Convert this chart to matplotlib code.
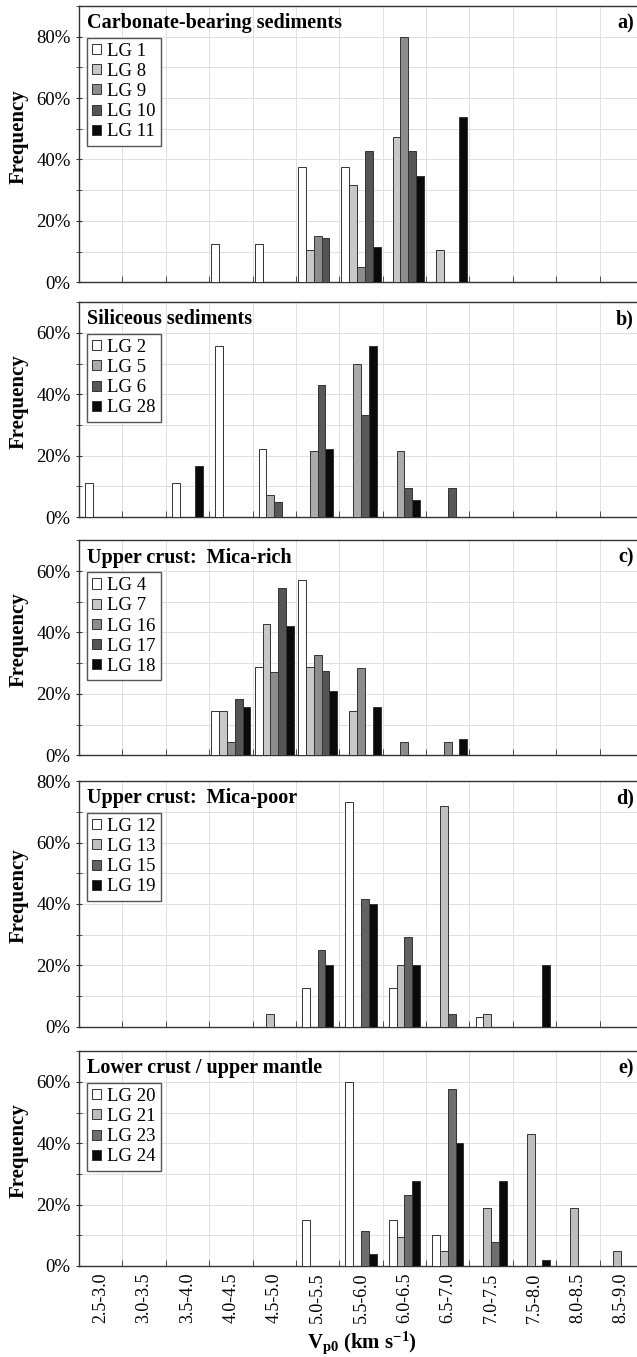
import matplotlib
matplotlib.use('Agg')
import matplotlib.pyplot as plt
import numpy as np
from matplotlib.ticker import PercentFormatter, MultipleLocator, FixedLocator

# === Fonts: Times-like serif everywhere ===
plt.rcParams['font.family'] = ['Liberation Serif', 'DejaVu Serif']
plt.rcParams['mathtext.fontset'] = 'custom'
plt.rcParams['mathtext.rm'] = 'Liberation Serif'
plt.rcParams['mathtext.bf'] = 'Liberation Serif:bold'
plt.rcParams['mathtext.it'] = 'Liberation Serif:italic'

# === Velocity classes (km/s) ===
categories = ['2.5-3.0', '3.0-3.5', '3.5-4.0', '4.0-4.5', '4.5-5.0', '5.0-5.5',
              '5.5-6.0', '6.0-6.5', '6.5-7.0', '7.0-7.5', '7.5-8.0', '8.0-8.5',
              '8.5-9.0']

# === a) Carbonate-bearing sediments (%) ===
a_labels = ['LG 1', 'LG 8', 'LG 9', 'LG 10', 'LG 11']
lg1 = [0, 0, 0, 12.5, 12.5, 37.5, 37.5, 0, 0, 0, 0, 0, 0]
lg8 = [0, 0, 0, 0, 0, 10.5, 31.6, 47.4, 10.5, 0, 0, 0, 0]
lg9 = [0, 0, 0, 0, 0, 15.0, 5.0, 80.0, 0, 0, 0, 0, 0]
lg10 = [0, 0, 0, 0, 0, 14.3, 42.9, 42.9, 0, 0, 0, 0, 0]
lg11 = [0, 0, 0, 0, 0, 0, 11.5, 34.6, 53.8, 0, 0, 0, 0]

# === b) Siliceous sediments ===
b_labels = ['LG 2', 'LG 5', 'LG 6', 'LG 28']
lg2 = [11.1, 0, 11.1, 55.6, 22.2, 0, 0, 0, 0, 0, 0, 0, 0]
lg5 = [0, 0, 0, 0, 7.1, 21.4, 50.0, 21.4, 0, 0, 0, 0, 0]
lg6 = [0, 0, 0, 0, 4.8, 42.9, 33.3, 9.5, 9.5, 0, 0, 0, 0]
lg28 = [0, 0, 16.7, 0, 0, 22.2, 55.6, 5.6, 0, 0, 0, 0, 0]

# === c) Upper crust: Mica-rich ===
c_labels = ['LG 4', 'LG 7', 'LG 16', 'LG 17', 'LG 18']
lg4 = [0, 0, 0, 14.3, 28.6, 57.1, 0, 0, 0, 0, 0, 0, 0]
lg7 = [0, 0, 0, 14.3, 42.9, 28.6, 14.3, 0, 0, 0, 0, 0, 0]
lg16 = [0, 0, 0, 4.3, 27.0, 32.6, 28.3, 4.3, 4.3, 0, 0, 0, 0]
lg17 = [0, 0, 0, 18.2, 54.5, 27.3, 0, 0, 0, 0, 0, 0, 0]
lg18 = [0, 0, 0, 15.8, 42.1, 21.1, 15.8, 0, 5.3, 0, 0, 0, 0]

# === d) Upper crust: Mica-poor ===
d_labels = ['LG 12', 'LG 13', 'LG 15', 'LG 19']
lg12 = [0, 0, 0, 0, 0, 12.5, 73.3, 12.5, 0, 3.1, 0, 0, 0]
lg13 = [0, 0, 0, 0, 4.2, 0, 0, 20.0, 72.0, 4.2, 0, 0, 0]
lg15 = [0, 0, 0, 0, 0, 25.0, 41.7, 29.2, 4.2, 0, 0, 0, 0]
lg19 = [0, 0, 0, 0, 0, 20.0, 40.0, 20.0, 0, 0, 20.0, 0, 0]

# === e) Lower crust / upper mantle ===
e_labels = ['LG 20', 'LG 21', 'LG 23', 'LG 24']
lg20 = [0, 0, 0, 0, 0, 15.0, 60.0, 15.0, 10.0, 0, 0, 0, 0]
lg21 = [0, 0, 0, 0, 0, 0, 0, 9.5, 4.8, 19.0, 42.9, 19.0, 4.8]
lg23 = [0, 0, 0, 0, 0, 0, 11.5, 23.1, 57.7, 7.7, 0, 0, 0]
lg24 = [0, 0, 0, 0, 0, 0, 3.8, 27.6, 40.0, 27.6, 1.8, 0, 0]

panels = [
    ('Carbonate-bearing sediments', 'a)', a_labels, [lg1, lg8, lg9, lg10, lg11],
     ['white', '#c8c8c8', '#8c8c8c', '#555555', '#0a0a0a'], 90),
    ('Siliceous sediments', 'b)', b_labels, [lg2, lg5, lg6, lg28],
     ['white', '#aaaaaa', '#585858', '#0a0a0a'], 70),
    ('Upper crust:  Mica-rich', 'c)', c_labels, [lg4, lg7, lg16, lg17, lg18],
     ['white', '#c8c8c8', '#8c8c8c', '#555555', '#0a0a0a'], 70),
    ('Upper crust:  Mica-poor', 'd)', d_labels, [lg12, lg13, lg15, lg19],
     ['white', '#c0c0c0', '#626262', '#0a0a0a'], 80),
    ('Lower crust / upper mantle', 'e)', e_labels, [lg20, lg21, lg23, lg24],
     ['white', '#bdbdbd', '#6e6e6e', '#0a0a0a'], 70),
]

# === Figure layout in pixels (637 x 1357) ===
W, H = 637, 1357
fig = plt.figure(figsize=(W / 100, H / 100), dpi=100)
left_px, width_px = 79, 564
px_per_pct = 3.07
bottoms_px = [282.3, 517, 755.3, 1026.7, 1266]

x = np.arange(len(categories))
bar_w = 0.18

for k, (title, tag, labels, series, colors, ymax) in enumerate(panels):
    bottom = bottoms_px[k]
    height = ymax * px_per_pct
    ax = fig.add_axes([left_px / W, 1 - bottom / H, width_px / W, height / H])
    n = len(series)
    for i, vals in enumerate(series):
        vals = np.array(vals, dtype=float)
        pos = x + (i - (n - 1) / 2) * bar_w
        m = vals > 0
        ax.bar(pos[m], vals[m], width=bar_w, color=colors[i],
               edgecolor='#333333', linewidth=0.7, zorder=3)
        # proxy for legend
        ax.bar([np.nan], [np.nan], width=bar_w, color=colors[i],
               edgecolor='#333333', linewidth=0.7, label=labels[i])

    ax.set_xlim(-0.5, len(categories) - 0.5)
    ax.set_ylim(0, ymax)
    ax.yaxis.set_major_locator(MultipleLocator(20))
    ax.yaxis.set_minor_locator(MultipleLocator(10))
    ax.yaxis.set_major_formatter(PercentFormatter(decimals=0))
    ax.grid(True, which='both', axis='y', color='#e0e0e0', linewidth=0.7, zorder=0)

    # category boundaries as minor ticks + vertical grid
    ax.xaxis.set_minor_locator(FixedLocator(np.arange(0.5, len(categories) - 0.5, 1)))
    ax.grid(True, which='minor', axis='x', color='#e0e0e0', linewidth=0.7, zorder=0)
    ax.set_xticks(x)
    if k == len(panels) - 1:
        ax.set_xticklabels(categories, rotation=90, fontsize=13)
    else:
        ax.set_xticklabels([])
    ax.tick_params(axis='x', which='major', length=0, pad=5)
    ax.tick_params(axis='x', which='minor', direction='in', length=4, color='#333333')
    ax.tick_params(axis='y', which='both', direction='inout', length=4,
                   color='#333333', labelsize=13.5, pad=4)

    for s in ax.spines.values():
        s.set_color('#333333')
        s.set_linewidth(1.0)

    ax.set_ylabel('Frequency', fontsize=15, fontweight='bold')
    ax.yaxis.set_label_coords((29 - left_px) / width_px, 0.5 + 8 / height)

    ax.annotate(title, xy=(0, 1), xycoords='axes fraction', xytext=(6, -16),
                textcoords='offset points', ha='left', va='baseline',
                fontsize=14.5, fontweight='bold')
    ax.annotate(tag, xy=(634 / W, 1), xycoords=('figure fraction', 'axes fraction'),
                xytext=(0, -16), textcoords='offset points', ha='right',
                va='baseline', fontsize=14.5, fontweight='bold')

    ax.legend(loc='upper left', bbox_to_anchor=(8 / width_px, 1 - 31.5 / height),
              borderaxespad=0, fontsize=13.5, handlelength=0.45, handleheight=0.45,
              handletextpad=0.35, labelspacing=0.17, borderpad=0.28,
              fancybox=False, framealpha=1, edgecolor='#555555')

fig.text(362 / W, 1 - 1343 / H, r'$\mathbf{V_{p0}}$ $\mathbf{(km\ s^{-1})}$',
         ha='center', va='center', fontsize=15)

plt.savefig('out.png', dpi=100)
